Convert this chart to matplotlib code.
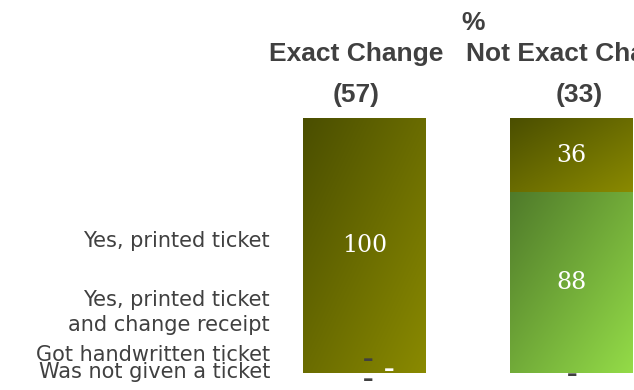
import numpy as np
import matplotlib.pyplot as plt
from matplotlib.colors import to_rgb

W, H = 634, 390

groups = ['Exact Change', 'Not Exact Change']
group_n = [57, 33]
answers = ['Yes, printed ticket',
           'Yes, printed ticket\nand change receipt',
           'Got handwritten ticket',
           'Was not given a ticket']
# % per answer, listed top of the stack first
exact = [100, 0, 0, 0]
not_exact = [36, 88, 0, 0]

# gradient ends (top-left -> bottom-right) for each answer
shades = [('#4a4e00', '#8a8a00'),
          ('#4f7a2a', '#94dc48'),
          ('#2f5f7a', '#6fb0d8'),
          ('#7a5a2f', '#d8a86f')]
grey = '#404040'


def px(x, y):
    # figure pixel (from top-left) -> figure fraction
    return x / W, 1 - y / H


def gradient_fill(ax, patch, c0, c1, n=200):
    x0, y0 = patch.get_x(), patch.get_y()
    w, h = patch.get_width(), patch.get_height()
    u = np.linspace(0, 1, n)
    t = (u[None, :] + u[:, None]) / 2
    c0, c1 = np.array(to_rgb(c0)), np.array(to_rgb(c1))
    img = c0 + t[..., None] * (c1 - c0)
    im = ax.imshow(img, extent=(x0, x0 + w, y0, y0 + h), origin='upper',
                   aspect='auto', interpolation='bilinear', zorder=2)
    im.set_clip_path(patch)


fig = plt.figure(figsize=(W / 100, H / 100), dpi=100)
ax = fig.add_axes([261 / W, 17 / H, 414 / W, 255 / H])

bar_w = 0.594
for i, vals in enumerate([exact, not_exact]):
    vals = np.array(vals, dtype=float)
    share = vals / vals.sum()
    tops = 1 - np.concatenate([[0], np.cumsum(share)[:-1]])
    for k, (v, s, top) in enumerate(zip(vals, share, tops)):
        if v == 0:
            continue
        bars = ax.bar(i, s, bottom=top - s, width=bar_w, color='none',
                      linewidth=0, zorder=1)
        gradient_fill(ax, bars[0], *shades[k])
        ax.text(i, top - s / 2, f'{v:.0f}', ha='center', va='center',
                color='white', fontsize=17, family='DejaVu Serif', zorder=3)

# zero answers are shown as dashes under the stacks
dashes = [(0.017, 0.051, grey), (0.12, 0.012, 'white'), (0.017, -0.027, grey),
          (1.004, -0.008, grey)]
for x, y, c in dashes:
    ax.text(x, y, '\u2013', ha='center', va='center', color=c, fontsize=15,
            fontweight='bold', family='DejaVu Sans', zorder=4,
            clip_on=False)

ax.set_xlim(-0.5, 1.5)
ax.set_ylim(0, 1)
ax.axis('off')

hdr = dict(ha='center', va='center', color=grey, fontsize=19,
           fontweight='bold', family='Liberation Sans')
fig.text(*px(473, 23), '%', **hdr)
for cx, name, n in zip([356.5, 579], groups, group_n):
    fig.text(*px(cx, 54), name, **hdr)
    fig.text(*px(cx, 95), f'({n})', **hdr)

# baseline of each label's last line
lab = dict(ha='right', va='baseline', color=grey, fontsize=15,
           family='DejaVu Sans', linespacing=1.3)
for y, a in zip([247, 331, 361, 378], answers):
    fig.text(*px(270, y), a, **lab)

fig.savefig('out.png', dpi=100)
